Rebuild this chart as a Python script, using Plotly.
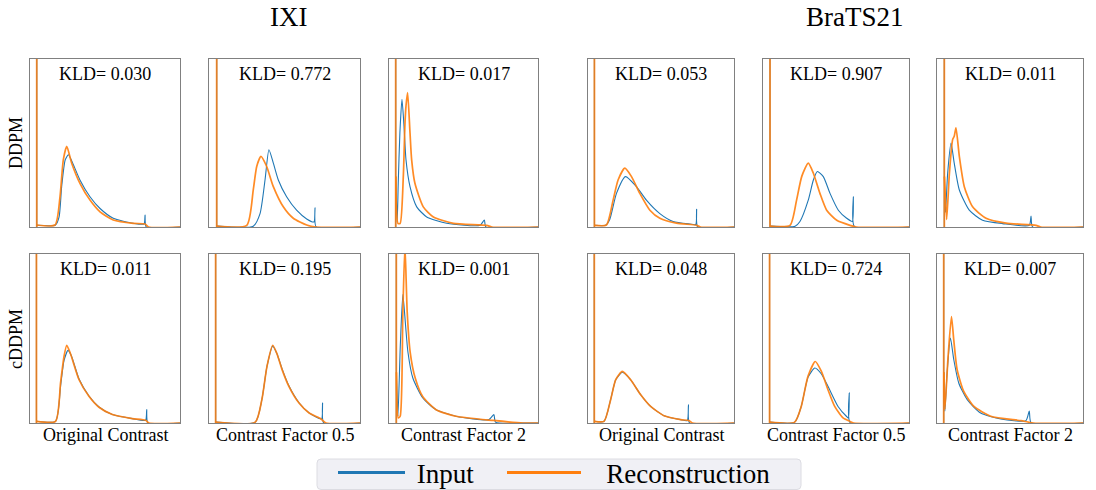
import plotly.graph_objects as go

# ---------------- data (x = normalised intensity, y = normalised density) ----------------
SPIKE = 5.0  # height of the background peak at intensity ~0 (clipped by the axis)

# position of the background peak for each panel (same order as the panels below)
spike_x = [0.045, 0.051, 0.045, 0.044, 0.048, 0.05,
           0.043, 0.044, 0.049, 0.043, 0.045, 0.046]

# IXI / DDPM / original contrast
ixi_ddpm_orig_in_x = [0.046, 0.17, 0.194, 0.211, 0.235, 0.256, 0.28, 0.333, 0.4, 0.467, 0.555, 0.689, 0.76, 0.767, 0.775, 1.0]
ixi_ddpm_orig_in_y = [0.01, 0.012, 0.06, 0.24, 0.40, 0.43, 0.39, 0.28, 0.18, 0.11, 0.052, 0.022, 0.018, 0.071, 0.0, 0.0]
ixi_ddpm_orig_rec_x = [0.046, 0.167, 0.2, 0.222, 0.245, 0.278, 0.333, 0.4, 0.467, 0.555, 0.689, 0.767, 0.79, 1.0]
ixi_ddpm_orig_rec_y = [0.012, 0.012, 0.18, 0.40, 0.48, 0.38, 0.26, 0.16, 0.09, 0.042, 0.022, 0.018, 0.0, 0.0]

# IXI / DDPM / contrast factor 0.5
ixi_ddpm_cf05_in_x = [0.052, 0.293, 0.338, 0.371, 0.397, 0.426, 0.459, 0.514, 0.58, 0.647, 0.695, 0.702, 0.71, 1.0]
ixi_ddpm_cf05_in_y = [0.005, 0.005, 0.08, 0.28, 0.46, 0.38, 0.28, 0.18, 0.10, 0.048, 0.03, 0.115, 0.0, 0.0]
ixi_ddpm_cf05_rec_x = [0.052, 0.25, 0.293, 0.316, 0.344, 0.382, 0.426, 0.492, 0.558, 0.647, 0.71, 1.0]
ixi_ddpm_cf05_rec_y = [0.005, 0.01, 0.22, 0.36, 0.42, 0.36, 0.24, 0.12, 0.052, 0.012, 0.0, 0.0]

# IXI / DDPM / contrast factor 2
ixi_ddpm_cf2_in_x = [0.046, 0.055, 0.062, 0.073, 0.087, 0.1, 0.114, 0.141, 0.186, 0.253, 0.387, 0.611, 0.64, 0.65, 1.0]
ixi_ddpm_cf2_in_y = [0.3, 0.03, 0.26, 0.56, 0.76, 0.61, 0.40, 0.24, 0.12, 0.06, 0.022, 0.01, 0.042, 0.0, 0.0]
ixi_ddpm_cf2_rec_x = [0.046, 0.06, 0.075, 0.096, 0.107, 0.114, 0.125, 0.141, 0.152, 0.174, 0.23, 0.298, 0.432, 0.656, 0.69, 1.0]
ixi_ddpm_cf2_rec_y = [0.3, 0.022, 0.022, 0.30, 0.61, 0.72, 0.80, 0.56, 0.40, 0.26, 0.12, 0.06, 0.022, 0.01, 0.0, 0.0]

# BraTS21 / DDPM / original contrast
brats_ddpm_orig_in_x = [0.045, 0.12, 0.149, 0.195, 0.257, 0.332, 0.4, 0.492, 0.583, 0.698, 0.738, 0.744, 0.752, 1.0]
brats_ddpm_orig_in_y = [0.01, 0.01, 0.045, 0.20, 0.30, 0.24, 0.16, 0.08, 0.033, 0.018, 0.015, 0.105, 0.0, 0.0]
brats_ddpm_orig_rec_x = [0.045, 0.126, 0.172, 0.206, 0.252, 0.298, 0.355, 0.424, 0.492, 0.606, 0.744, 0.77, 1.0]
brats_ddpm_orig_rec_y = [0.01, 0.012, 0.16, 0.28, 0.35, 0.30, 0.20, 0.10, 0.052, 0.023, 0.01, 0.0, 0.0]

# BraTS21 / DDPM / contrast factor 0.5
brats_ddpm_cf05_in_x = [0.049, 0.22, 0.253, 0.31, 0.345, 0.372, 0.413, 0.459, 0.516, 0.573, 0.612, 0.619, 0.627, 1.0]
brats_ddpm_cf05_in_y = [0.005, 0.005, 0.033, 0.16, 0.28, 0.33, 0.30, 0.20, 0.10, 0.052, 0.033, 0.18, 0.0, 0.0]
brats_ddpm_cf05_rec_x = [0.049, 0.185, 0.23, 0.265, 0.31, 0.345, 0.39, 0.436, 0.505, 0.596, 0.64, 1.0]
brats_ddpm_cf05_rec_y = [0.005, 0.01, 0.16, 0.30, 0.38, 0.32, 0.20, 0.10, 0.04, 0.01, 0.0, 0.0]

# BraTS21 / DDPM / contrast factor 2
brats_ddpm_cf2_in_x = [0.051, 0.058, 0.073, 0.096, 0.118, 0.153, 0.221, 0.312, 0.449, 0.632, 0.644, 0.655, 1.0]
brats_ddpm_cf2_in_y = [0.3, 0.087, 0.32, 0.50, 0.38, 0.22, 0.10, 0.04, 0.02, 0.01, 0.065, 0.0, 0.0]
brats_ddpm_cf2_rec_x = [0.051, 0.066, 0.085, 0.107, 0.118, 0.13, 0.153, 0.187, 0.244, 0.336, 0.473, 0.678, 0.71, 1.0]
brats_ddpm_cf2_rec_y = [0.3, 0.045, 0.32, 0.52, 0.54, 0.59, 0.42, 0.24, 0.12, 0.052, 0.023, 0.01, 0.0, 0.0]

# IXI / cDDPM / original contrast
ixi_cddpm_orig_in_x = [0.044, 0.17, 0.204, 0.227, 0.253, 0.275, 0.327, 0.393, 0.46, 0.549, 0.682, 0.77, 0.778, 0.786, 1.0]
ixi_cddpm_orig_in_y = [0.01, 0.01, 0.22, 0.37, 0.43, 0.40, 0.26, 0.16, 0.095, 0.05, 0.026, 0.016, 0.08, 0.0, 0.0]
ixi_cddpm_orig_rec_x = [0.044, 0.17, 0.204, 0.227, 0.245, 0.27, 0.327, 0.393, 0.46, 0.549, 0.682, 0.771, 0.793, 1.0]
ixi_cddpm_orig_rec_y = [0.01, 0.01, 0.24, 0.395, 0.46, 0.41, 0.256, 0.158, 0.093, 0.05, 0.026, 0.016, 0.0, 0.0]

# IXI / cDDPM / contrast factor 0.5
ixi_cddpm_cf05_in_x = [0.045, 0.306, 0.35, 0.384, 0.422, 0.45, 0.484, 0.529, 0.596, 0.663, 0.745, 0.752, 0.76, 1.0]
ixi_cddpm_cf05_in_y = [0.005, 0.005, 0.138, 0.335, 0.455, 0.41, 0.32, 0.22, 0.12, 0.06, 0.024, 0.118, 0.0, 0.0]
ixi_cddpm_cf05_rec_x = [0.045, 0.306, 0.35, 0.384, 0.422, 0.45, 0.484, 0.529, 0.596, 0.663, 0.742, 0.775, 1.0]
ixi_cddpm_cf05_rec_y = [0.005, 0.005, 0.138, 0.335, 0.46, 0.41, 0.316, 0.217, 0.118, 0.059, 0.024, 0.0, 0.0]

# IXI / cDDPM / contrast factor 2
ixi_cddpm_cf2_in_x = [0.05, 0.06, 0.076, 0.093, 0.111, 0.127, 0.16, 0.227, 0.316, 0.449, 0.671, 0.704, 0.715, 0.9, 1.0]
ixi_cddpm_cf2_in_y = [0.3, 0.04, 0.46, 0.76, 0.58, 0.42, 0.266, 0.148, 0.079, 0.04, 0.02, 0.05, 0.005, 0.0, 0.0]
ixi_cddpm_cf2_rec_x = [0.05, 0.062, 0.075, 0.093, 0.107, 0.122, 0.142, 0.176, 0.227, 0.316, 0.449, 0.7, 0.9, 1.0]
ixi_cddpm_cf2_rec_y = [0.3, 0.03, 0.04, 0.66, 1.05, 0.66, 0.42, 0.266, 0.155, 0.079, 0.04, 0.015, 0.0, 0.0]

# BraTS21 / cDDPM / original contrast
brats_cddpm_orig_in_x = [0.044, 0.11, 0.155, 0.19, 0.235, 0.292, 0.361, 0.429, 0.521, 0.635, 0.68, 0.688, 0.696, 1.0]
brats_cddpm_orig_in_y = [0.01, 0.01, 0.138, 0.256, 0.3, 0.256, 0.167, 0.098, 0.043, 0.02, 0.015, 0.108, 0.0, 0.0]
brats_cddpm_orig_rec_x = [0.044, 0.11, 0.155, 0.19, 0.235, 0.292, 0.361, 0.429, 0.521, 0.635, 0.692, 0.715, 1.0]
brats_cddpm_orig_rec_y = [0.01, 0.01, 0.138, 0.256, 0.305, 0.256, 0.167, 0.098, 0.043, 0.02, 0.014, 0.0, 0.0]

# BraTS21 / cDDPM / contrast factor 0.5
brats_cddpm_cf05_in_x = [0.046, 0.217, 0.262, 0.308, 0.355, 0.4, 0.445, 0.514, 0.571, 0.585, 0.591, 0.598, 1.0]
brats_cddpm_cf05_in_y = [0.005, 0.005, 0.098, 0.27, 0.325, 0.29, 0.217, 0.098, 0.04, 0.03, 0.178, 0.0, 0.0]
brats_cddpm_cf05_rec_x = [0.046, 0.217, 0.262, 0.308, 0.358, 0.4, 0.445, 0.491, 0.548, 0.594, 0.62, 1.0]
brats_cddpm_cf05_rec_y = [0.005, 0.005, 0.098, 0.276, 0.364, 0.305, 0.197, 0.098, 0.03, 0.01, 0.0, 0.0]

# BraTS21 / cDDPM / contrast factor 2
brats_cddpm_cf2_in_x = [0.047, 0.054, 0.069, 0.092, 0.115, 0.149, 0.207, 0.299, 0.437, 0.609, 0.632, 0.645, 1.0]
brats_cddpm_cf2_in_y = [0.3, 0.07, 0.296, 0.503, 0.375, 0.237, 0.138, 0.059, 0.024, 0.014, 0.07, 0.0, 0.0]
brats_cddpm_cf2_rec_x = [0.047, 0.054, 0.076, 0.099, 0.115, 0.138, 0.183, 0.253, 0.368, 0.575, 0.66, 1.0]
brats_cddpm_cf2_rec_y = [0.3, 0.08, 0.394, 0.63, 0.49, 0.315, 0.187, 0.098, 0.04, 0.014, 0.0, 0.0]

kld_values = ["0.030", "0.772", "0.017", "0.053", "0.907", "0.011",
              "0.011", "0.195", "0.001", "0.048", "0.724", "0.007"]
dataset_titles = ["IXI", "BraTS21"]
row_labels = ["DDPM", "cDDPM"]
col_labels = ["Original Contrast", "Contrast Factor 0.5", "Contrast Factor 2"]
series_names = ["Input", "Reconstruction"]

panels = [
    (ixi_ddpm_orig_in_x, ixi_ddpm_orig_in_y, ixi_ddpm_orig_rec_x, ixi_ddpm_orig_rec_y),
    (ixi_ddpm_cf05_in_x, ixi_ddpm_cf05_in_y, ixi_ddpm_cf05_rec_x, ixi_ddpm_cf05_rec_y),
    (ixi_ddpm_cf2_in_x, ixi_ddpm_cf2_in_y, ixi_ddpm_cf2_rec_x, ixi_ddpm_cf2_rec_y),
    (brats_ddpm_orig_in_x, brats_ddpm_orig_in_y, brats_ddpm_orig_rec_x, brats_ddpm_orig_rec_y),
    (brats_ddpm_cf05_in_x, brats_ddpm_cf05_in_y, brats_ddpm_cf05_rec_x, brats_ddpm_cf05_rec_y),
    (brats_ddpm_cf2_in_x, brats_ddpm_cf2_in_y, brats_ddpm_cf2_rec_x, brats_ddpm_cf2_rec_y),
    (ixi_cddpm_orig_in_x, ixi_cddpm_orig_in_y, ixi_cddpm_orig_rec_x, ixi_cddpm_orig_rec_y),
    (ixi_cddpm_cf05_in_x, ixi_cddpm_cf05_in_y, ixi_cddpm_cf05_rec_x, ixi_cddpm_cf05_rec_y),
    (ixi_cddpm_cf2_in_x, ixi_cddpm_cf2_in_y, ixi_cddpm_cf2_rec_x, ixi_cddpm_cf2_rec_y),
    (brats_cddpm_orig_in_x, brats_cddpm_orig_in_y, brats_cddpm_orig_rec_x, brats_cddpm_orig_rec_y),
    (brats_cddpm_cf05_in_x, brats_cddpm_cf05_in_y, brats_cddpm_cf05_rec_x, brats_cddpm_cf05_rec_y),
    (brats_cddpm_cf2_in_x, brats_cddpm_cf2_in_y, brats_cddpm_cf2_rec_x, brats_cddpm_cf2_rec_y),
]

# ---------------- layout geometry (page pixels) ----------------
W, H = 1096, 490


def px(p):
    return p / W


def py(p):
    return 1 - p / H


COLS = [(30, 180), (209, 360), (389, 538), (588, 734), (763, 909), (937, 1083)]
ROWS = [(59, 227), (254, 423)]
BLUE = "#1f77b4"
ORANGE = "#ff7f0e"
FONT = "Liberation Serif"
SPINE = "#808080"
NBSP = "\u00a0"

fig = go.Figure()
layout = dict(
    width=W, height=H,
    margin=dict(l=0, r=0, t=0, b=0, autoexpand=False),
    paper_bgcolor="white", plot_bgcolor="white",
    font=dict(family=FONT, color="black"),
    showlegend=True,
)
annotations = []

for i, (xin, yin, xrec, yrec) in enumerate(panels):
    r, c = divmod(i, 6)
    k = i + 1
    xa = "x" if k == 1 else f"x{k}"
    ya = "y" if k == 1 else f"y{k}"
    x0, x1 = COLS[c]
    y0, y1 = ROWS[r]
    sx = spike_x[i]
    # input
    fig.add_trace(go.Scatter(x=[sx, sx], y=[0, SPIKE], mode="lines", legendgroup="in",
                             line=dict(color=BLUE, width=1.1), xaxis=xa, yaxis=ya,
                             showlegend=False, hoverinfo="skip"))
    fig.add_trace(go.Scatter(x=xin, y=yin, mode="lines", name=series_names[0], legendgroup="in",
                             line=dict(color=BLUE, width=1.1, shape="spline", smoothing=0.6),
                             xaxis=xa, yaxis=ya, showlegend=False))
    # reconstruction
    fig.add_trace(go.Scatter(x=[sx, sx], y=[0, SPIKE], mode="lines", legendgroup="rec",
                             line=dict(color=ORANGE, width=1.8), opacity=0.85, xaxis=xa, yaxis=ya,
                             showlegend=False, hoverinfo="skip"))
    fig.add_trace(go.Scatter(x=xrec, y=yrec, mode="lines", name=series_names[1], legendgroup="rec",
                             line=dict(color=ORANGE, width=1.7, shape="spline", smoothing=0.6),
                             opacity=0.9, xaxis=xa, yaxis=ya, showlegend=False))
    axcommon = dict(showgrid=False, zeroline=False, showticklabels=False, ticks="",
                    showline=True, mirror=True, linecolor=SPINE, linewidth=1, fixedrange=True)
    layout["xaxis" if k == 1 else f"xaxis{k}"] = dict(domain=[px(x0), px(x1)], range=[0, 1],
                                                      anchor=ya, **axcommon)
    layout["yaxis" if k == 1 else f"yaxis{k}"] = dict(domain=[py(y1), py(y0)], range=[0, 1],
                                                      anchor=xa, **axcommon)
    annotations.append(dict(text=f"KLD= {kld_values[i]}", x=px((x0 + x1) / 2),
                            y=py(y0 + 15), xref="paper", yref="paper",
                            showarrow=False, font=dict(size=18, family=FONT),
                            xanchor="center", yanchor="middle"))
    if r == 1:
        annotations.append(dict(text=col_labels[c % 3], x=px((x0 + x1) / 2),
                                y=py(435), xref="paper", yref="paper",
                                showarrow=False, font=dict(size=18, family=FONT),
                                xanchor="center", yanchor="middle"))

# legend entries (thicker keys, like the reference legend)
fig.add_trace(go.Scatter(x=[None], y=[None], mode="lines", name=NBSP + series_names[0],
                         legendgroup="in", line=dict(color=BLUE, width=3), legend="legend",
                         hoverinfo="skip"))
fig.add_trace(go.Scatter(x=[None], y=[None], mode="lines", name=NBSP * 3 + series_names[1],
                         legendgroup="rec", line=dict(color=ORANGE, width=3), legend="legend2",
                         hoverinfo="skip"))

for j, t in enumerate(dataset_titles):
    cx = [288, 855][j]
    annotations.append(dict(text=t, x=px(cx), y=1.0, xref="paper", yref="paper",
                            showarrow=False, font=dict(size=27, family=FONT),
                            xanchor="center", yanchor="top"))
for j, t in enumerate(row_labels):
    cy = [143, 339][j]
    annotations.append(dict(text=t, x=px(16), y=py(cy), xref="paper", yref="paper",
                            showarrow=False, textangle=-90, font=dict(size=18, family=FONT),
                            xanchor="center", yanchor="middle"))

layout["annotations"] = annotations

# legend frame with rounded corners
bx0, bx1, by0, by1, rad = 317, 801, 459, 489.5, 4
rx, ry = rad / W, rad / H
X0, X1, Yt, Yb = px(bx0), px(bx1), py(by0), py(by1)
frame = (f"M {X0 + rx},{Yt} L {X1 - rx},{Yt} Q {X1},{Yt} {X1},{Yt - ry} "
         f"L {X1},{Yb + ry} Q {X1},{Yb} {X1 - rx},{Yb} L {X0 + rx},{Yb} "
         f"Q {X0},{Yb} {X0},{Yb + ry} L {X0},{Yt - ry} Q {X0},{Yt} {X0 + rx},{Yt} Z")
layout["shapes"] = [dict(type="path", path=frame, xref="paper", yref="paper",
                         fillcolor="#f0f0f5", line=dict(color="#dcdce2", width=1), layer="above")]
legcommon = dict(orientation="h", y=py(473), xanchor="left", yanchor="middle",
                 bgcolor="rgba(0,0,0,0)", borderwidth=0,
                 font=dict(size=27, family=FONT))
layout["legend"] = dict(x=px(333), itemwidth=67, **legcommon)
layout["legend2"] = dict(x=px(502), itemwidth=74, **legcommon)
fig.update_layout(**layout)
fig.write_html("out.html", config={"displayModeBar": False},
               post_script="document.body.style.margin='0px';document.body.style.overflow='hidden';")
